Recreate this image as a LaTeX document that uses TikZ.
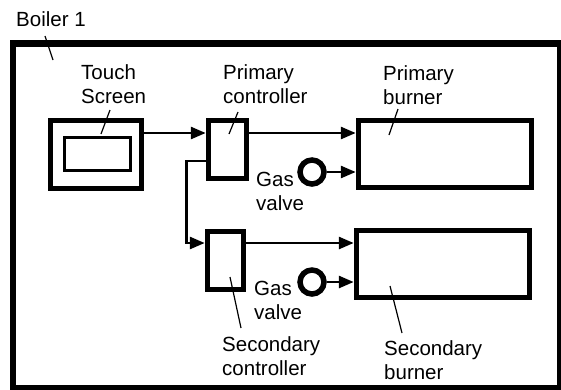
\documentclass[tikz,border=0pt]{standalone}
\usepackage{fontspec}
\setmainfont{Liberation Sans}
\usetikzlibrary{arrows.meta,calc,positioning}

\begin{document}
\begin{tikzpicture}[
  x=1pt,y=-1pt,
  font=\fontsize{20.5}{24}\selectfont,
  >={Triangle[length=15pt,width=12pt]},
  frame/.style={draw,line width=6.5pt,inner sep=0pt},
  block/.style={draw,line width=5.5pt,inner sep=0pt},
  display/.style={draw,line width=3pt,inner sep=0pt,
                  minimum width=66pt,minimum height=33pt},
  valve/.style={draw,circle,line width=5.5pt,inner sep=0pt,minimum size=24pt},
  edge/.style={->,line width=2.8pt},
  leader/.style={line width=1.2pt},
  tag/.style={anchor=base west,align=left,inner sep=0pt}
]
\useasboundingbox (0,0) rectangle (561,389);

% boiler outline
\node[frame,minimum width=547pt,minimum height=344.5pt] (boiler) at (286.5,215.75) {};

% units
\node[block,minimum width=91pt,minimum height=68pt] (touch) at (96,154.5) {};
\node[display] (screen) at (97,153.5) {};
\node[block,minimum width=38pt,minimum height=58pt] (pcontrol) at (227.5,149.5) {};
\node[block,minimum width=36pt,minimum height=58pt] (scontrol) at (225.5,260.5) {};
\node[block,minimum width=173pt,minimum height=67pt] (pburner) at (445,154) {};
\node[block,minimum width=173pt,minimum height=67pt] (sburner) at (443,264) {};
\node[valve] (pvalve) at (312,172) {};
\node[valve] (svalve) at (312,282) {};

% labels (placed at the baseline of their last line)
\node[tag] (boilerlbl) at (16,26) {Boiler 1};
\node[tag] (touchlbl) at (81,103) {Touch\\Screen};
\node[tag] (pcontrollbl) at (223,103) {Primary\\controller};
\node[tag] (pburnerlbl) at (383,104) {Primary\\burner};
\node[tag] (pvalvelbl) at (256,210) {Gas\\valve};
\node[tag] (svalvelbl) at (254,319) {Gas\\valve};
\node[tag] (scontrollbl) at (222,375) {Secondary\\controller};
\node[tag] (sburnerlbl) at (384,379) {Secondary\\burner};

% leader lines
\coordinate (boiler-a) at (45,36);   \coordinate (boiler-b) at (53,60);
\coordinate (touch-a) at (110,110);  \coordinate (touch-b) at (101,134);
\coordinate (pctl-a) at (238,112);   \coordinate (pctl-b) at (229,134);
\coordinate (pbrn-a) at (398,109);   \coordinate (pbrn-b) at (389,135);
\coordinate (sctl-a) at (230,277);   \coordinate (sctl-b) at (241,328);
\coordinate (sbrn-a) at (390,286);   \coordinate (sbrn-b) at (402,333);
\draw[leader] (boiler-a) -- (boiler-b);
\draw[leader] (touch-a) -- (touch-b);
\draw[leader] (pctl-a) -- (pctl-b);
\draw[leader] (pbrn-a) -- (pbrn-b);
\draw[leader] (sctl-a) -- (sctl-b);
\draw[leader] (sbrn-a) -- (sbrn-b);

% signal and gas flow
\draw[edge] ([yshift=21.5pt]touch.east) -- ([yshift=16.5pt]pcontrol.west);
\draw[edge] ([yshift=16.5pt]pcontrol.east) -- ([yshift=21pt]pburner.west);
\draw[edge] ([yshift=-11.5pt]pcontrol.west) -- ++(-19,0)
  |- ([yshift=17.5pt]scontrol.west);
\draw[edge] ([yshift=17.5pt]scontrol.east) -- ([yshift=21pt]sburner.west);
\draw[edge] (pvalve.east) -- (pburner.west |- pvalve);
\draw[edge] (svalve.east) -- (sburner.west |- svalve);
\end{tikzpicture}
\end{document}
